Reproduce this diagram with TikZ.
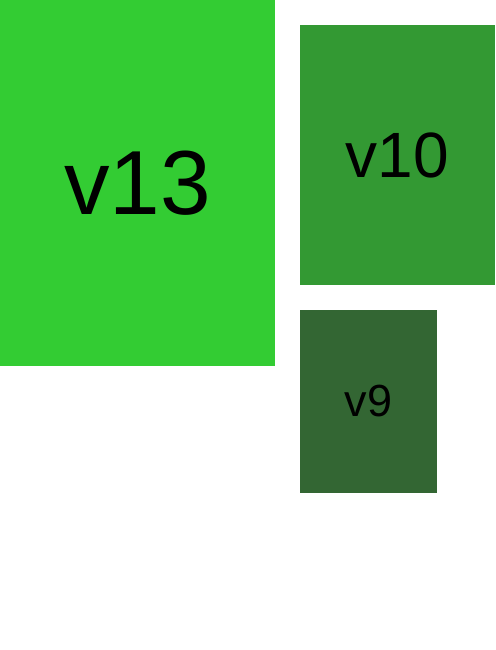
\documentclass[tikz,border=0pt]{standalone}
\usepackage{fontspec}
\setmainfont{Liberation Sans}
\definecolor{cA}{HTML}{33CC33}
\definecolor{cB}{HTML}{339933}
\definecolor{cC}{HTML}{336633}
\begin{document}
\begin{tikzpicture}[x=1pt,y=-1pt,
  box/.style={inner sep=0pt, outer sep=0pt, draw=none, text=black, anchor=north west}]
\useasboundingbox (0,0) rectangle (495,650);
\node[box, fill=cA, minimum width=275pt, minimum height=366pt, font=\fontsize{91}{91}\selectfont] (v13) at (0,0) {v13};
\node[box, fill=cB, minimum width=195pt, minimum height=260pt, font=\fontsize{64}{64}\selectfont] (v10) at (300,25) {v10};
\node[box, fill=cC, minimum width=137pt, minimum height=183pt, font=\fontsize{45}{45}\selectfont] (v9) at (300,310) {v9};
\end{tikzpicture}
\end{document}
